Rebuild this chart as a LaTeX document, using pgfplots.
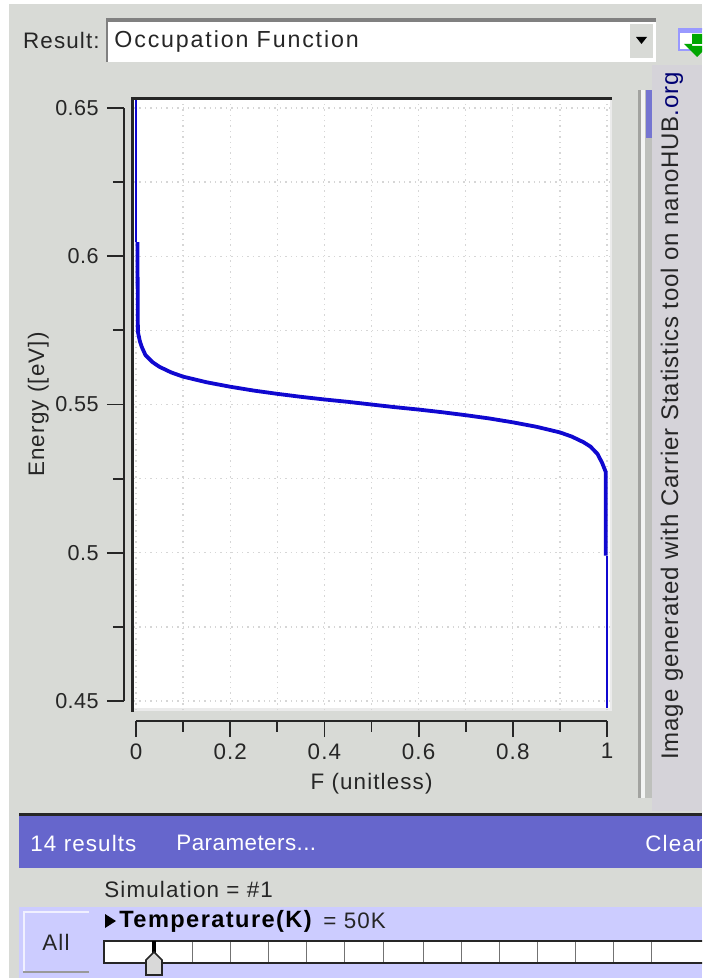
\documentclass[border=0pt]{standalone}
\usepackage{pgfplots}
\pgfplotsset{compat=1.18}
\usepackage{fontspec}
\setmainfont{Liberation Sans}
\definecolor{bgc}{HTML}{D8DAD6}
\definecolor{panelc}{HTML}{D5D3D9}
\definecolor{barc}{HTML}{6666CC}
\definecolor{bandc}{HTML}{CCCCFF}
\definecolor{curvec}{HTML}{1008D0}
\definecolor{txt}{HTML}{262626}
\definecolor{gridc}{HTML}{D6D6D6}
\newfontfamily\uifont[LetterSpace=5]{Liberation Sans}
\newfontfamily\uiwide[LetterSpace=8]{Liberation Sans}
\newfontfamily\uitight[LetterSpace=2]{Liberation Sans}
\newfontfamily\credit[LetterSpace=3.6]{Liberation Sans}
\newcommand{\ui}[1]{\fontsize{11.2}{13}\uifont #1}
\newcommand{\uifnt}{\fontsize{11.2}{13}\uifont}
\newcommand{\tickfnt}{\fontsize{10.8}{13}\uitight}
\begin{document}
\begin{tikzpicture}
\path[use as bounding box,clip] (0,0) rectangle (351pt,-489pt);
\begin{scope}[x=0.5pt,y=-0.5pt]
\fill[white] (0,0) rectangle (702,978);
\fill[bgc] (9,4) rectangle (702,978);
% right panel
\fill[panelc] (652,65) rectangle (702,811);
% gutter
\fill[white!70!bgc] (640,90) rectangle (646,798);
\fill[black!25!bgc] (638,90) rectangle (641,798);
\fill[black!12!bgc] (645,90) rectangle (652,798);
\fill[barc!90!white] (645.5,90) rectangle (651.5,138);
% combo
\fill[white] (106,19) rectangle (656,62);
\fill[black!50] (106,18) rectangle (656,22);
\fill[black!50] (106,18) rectangle (108,62);
\fill[bgc] (630,24) rectangle (653,58);
\fill[black] (636,37) -- (647,37) -- (641.5,44) -- cycle;
\node[anchor=east,text=txt,inner sep=0pt] at (100,40) {\ui{Result:}};
\node[anchor=west,text=txt,inner sep=0pt] at (114,42) {\fontsize{11.6}{13}\uiwide Occupation Function};
% icon
\fill[white] (679,29) rectangle (702,50);
\draw[blue!40!white,line width=1pt] (679,29) rectangle (710,50);
\fill[blue!40!white] (679,29) rectangle (702,33);
\fill[green!65!black] (692,34) rectangle (703,46) (684,44) -- (710,44) -- (697,57) -- cycle;
% vertical credit
\node[rotate=90,anchor=west,text=txt,inner sep=0pt] at (672,760) {\fontsize{12}{14}\credit Image generated with Carrier Statistics tool on nanoHUB\textcolor{blue!45!black}{.org}};
% bottom bar
\fill[barc] (19,814) rectangle (702,868);
\fill[black!85] (19,813) rectangle (702,816);
\node[anchor=west,text=white,inner sep=0pt] at (30,843) {\ui{14 results}};
\node[anchor=west,text=white,inner sep=0pt] at (176,843) {\fontsize{11.2}{13}\uitight Parameters...};
\node[anchor=west,text=white,inner sep=0pt] at (645,843) {\ui{Clear}};
\node[anchor=west,text=txt,inner sep=0pt] at (104,889) {\ui{Simulation = \#1}};
% lower band
\fill[bandc] (19,907) rectangle (702,978);
\fill[white!70!bandc] (23,911) rectangle (89,973);
\fill[bandc] (25,913) rectangle (89,971);
\fill[black!40] (23,971) rectangle (89,973);
\node[text=txt,inner sep=0pt] at (56,942) {\ui{All}};
\fill[black] (105,914) -- (116,921) -- (105,928) -- cycle;
\node[anchor=west,text=black,inner sep=0pt] at (119,921) {\fontsize{11.8}{13}\selectfont\bfseries\addfontfeature{LetterSpace=6}Temperature(K)};
\node[anchor=west,text=txt,inner sep=0pt] at (323,921) {\ui{= 50K}};
% slider
\fill[white] (104,941) rectangle (704,963);
\draw[black!85,line width=1pt] (104,941) rectangle (704,963);
\foreach \x in {192.5,230.6,268.7,306.8,344.8,382.9,423,461,499,537,575,613.5,651.6}
  \draw[black!55,line width=0.4pt] (\x,942) -- (\x,962);
\fill[black] (152,941) rectangle (156,956);
\draw[black!85,fill=black!15,line width=0.8pt] (154,952) -- (162,960) -- (162,975) -- (146,975) -- (146,960) -- cycle;
% plot frame
\fill[white] (134,100) rectangle (610,708);
\fill[black!8] (134,708) rectangle (612,711);
\fill[black!8] (610,100) rectangle (612,711);
\end{scope}
% main axis: grid and curve
\begin{axis}[at={(67pt,-355pt)},anchor=south west,scale only axis,width=238pt,height=305pt,
  xmin=-0.00425,xmax=1.0064,ymin=0.44697,ymax=0.6527,
  axis line style={draw=none},tick style={draw=none},
  xtick={0,0.1,...,1},ytick={0.45,0.475,...,0.65},
  xticklabels={},yticklabels={},
  grid=major,grid style={gridc,line width=0.7pt,dotted},clip=true]
\addplot[curvec,line width=1.1pt] coordinates {(1,0.4478)(1,0.499)};
\addplot[curvec,line width=1.1pt] coordinates {(0,0.6527)(0,0.6048)};
\addplot[curvec,line width=1.9pt,line join=round] coordinates {
(0.9975,0.499)(0.9975,0.5272)(0.99,0.5302)(0.98,0.5333)(0.965,0.5358)(0.95,0.5373)(0.925,0.5392)(0.9,0.5406)
(0.85,0.5425)(0.8,0.544)(0.75,0.5453)(0.7,0.5464)(0.65,0.5474)(0.6,0.5483)(0.55,0.5491)(0.5,0.55)(0.45,0.5509)(0.4,0.5517)
(0.35,0.5526)(0.3,0.5536)(0.25,0.5547)(0.2,0.556)(0.15,0.5575)(0.1,0.5594)(0.075,0.5608)(0.05,0.5627)(0.035,0.5643)(0.02,0.5667)
(0.012,0.5695)(0.008,0.5715)(0.004,0.5745)(0.003,0.6048)};
\end{axis}
% frame lines on top
\begin{scope}[x=0.5pt,y=-0.5pt]
\fill[black!85] (131,97.5) rectangle (612,100.5);
\fill[black!85] (131,97.5) rectangle (134,712);
\end{scope}
% x axis
\begin{axis}[at={(68pt,-360.3pt)},anchor=south west,scale only axis,width=235.5pt,height=10pt,
  xmin=0,xmax=1,ymin=0,ymax=1,
  axis x line=bottom,axis y line=none,axis line style={-,black!85,line width=0.9pt},
  xtick={0,0.2,0.4,0.6,0.8,1},minor xtick={0.1,0.3,0.5,0.7,0.9},
  xticklabels={0,0.2,0.4,0.6,0.8,1},
  tick style={black!85,line width=0.9pt},
  major tick length=8.2pt,minor tick length=5.6pt,tick align=outside,
  x tick label style={text=txt,font=\uifnt,inner sep=0pt,yshift=-3pt},
  xlabel={F (unitless)},xlabel style={text=txt,font=\uifnt,inner sep=0pt,yshift=-7pt}]
\end{axis}
% y axis
\begin{axis}[at={(62pt,-350.5pt)},anchor=south west,scale only axis,width=10pt,height=296.5pt,
  xmin=0,xmax=1,ymin=0.45,ymax=0.65,
  axis y line=left,axis x line=none,axis line style={-,black!85,line width=0.9pt},
  ytick={0.45,0.5,0.55,0.6,0.65},minor ytick={0.475,0.525,0.575,0.625},
  yticklabels={0.45,0.5,0.55,0.6,0.65},
  tick style={black!85,line width=0.9pt},
  tick align=outside,major tick length=8.5pt,minor tick length=5.6pt,
  y tick label style={text=txt,font=\tickfnt,inner sep=0pt,xshift=-4pt},
  ylabel={Energy ([eV])},ylabel style={text=txt,font=\uifnt,inner sep=0pt,yshift=3pt}]
\end{axis}
\end{tikzpicture}
\end{document}
